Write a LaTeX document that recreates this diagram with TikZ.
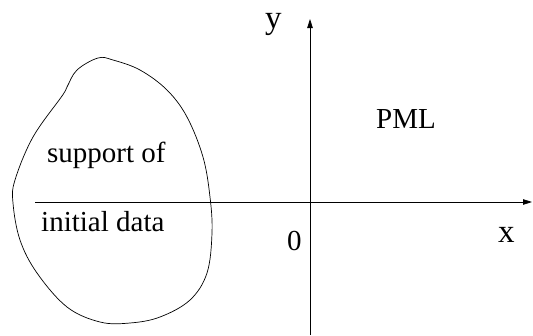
\documentclass[tikz,border=0pt]{standalone}
\usepackage{fontspec}
\setmainfont{Liberation Serif}
\usetikzlibrary{arrows.meta}
\begin{document}
\begin{tikzpicture}[x=1pt,y=-1pt,
  axis/.style={line width=0.8pt,-{Triangle[length=9pt,width=5.5pt]}},
  lbl/.style={inner sep=0pt,font=\fontsize{29}{32}\selectfont},
  big/.style={inner sep=0pt,font=\fontsize{33}{36}\selectfont},
  blob/.style={line width=0.7pt}]
\useasboundingbox (0,0) rectangle (533,335);
\coordinate (xs) at (35,202);
\coordinate (xe) at (532,202);
\coordinate (ys) at (310,335);
\coordinate (ye) at (310,19);
\draw[axis] (xs) -- (xe);
\draw[axis] (ys) -- (ye);
\draw[blob] plot[smooth cycle, tension=0.6] coordinates {
 (98,58) (77,70) (67,87) (62,96) (33,137) (15,180) (13,203) (20,240) (37,273)
 (67,307) (100,322) (130,323) (160,317) (190,300) (207,273) (212,233)
 (210,197) (203,157) (187,117) (167,90) (140,70) (113,60)};
\node[lbl,anchor=base west] (sup) at (47,162) {support of};
\node[lbl,anchor=base west] (ini) at (41,231) {initial data};
\node[lbl,anchor=base west] (pml) at (376,128) {PML};
\node[big,anchor=base west] (ylab) at (265,28) {y};
\node[big,anchor=base west] (xlab) at (498,242) {x};
\node[lbl,anchor=base west] (zero) at (287,250) {0};
\end{tikzpicture}
\end{document}
